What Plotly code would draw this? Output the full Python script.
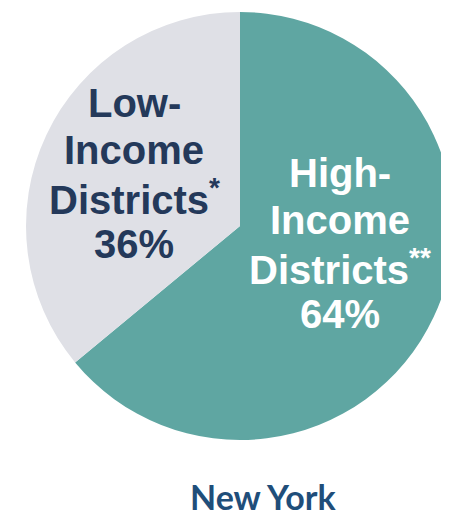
import plotly.graph_objects as go

# share of districts, New York (drawn clockwise from 12 o'clock)
labels = ["High-Income Districts", "Low-Income Districts"]
label_lines = [["High-", "Income", "Districts<sup>**</sup>"],
               ["Low-", "Income", "Districts<sup>*</sup>"]]
values = [64, 36]
title = "New York"

COLORS = ["#5fa6a2", "#dfe0e6"]
TEXT_COLORS = ["#ffffff", "#24395a"]

W, H = 449, 516
OFF = 8  # page body margin shifts the whole figure by 8px


def px_x(x):
    return (x - OFF) / W


def px_y(y):
    return 1 - (y - OFF) / H


fig = go.Figure()
fig.add_trace(go.Pie(
    labels=labels, values=values,
    marker=dict(colors=COLORS, line=dict(width=0)),
    sort=False, direction="clockwise", rotation=0,
    textinfo="none", hoverinfo="label+percent",
    domain=dict(x=[px_x(26), px_x(454)], y=[px_y(440), px_y(12)]),
    showlegend=False,
))

# slice labels, one annotation per line (x centre, first baseline, line gap)
label_pos = [(340, 188, 47), (134, 118, 47)]
for lines, v, col, (px, base, gap) in zip(label_lines, values, TEXT_COLORS, label_pos):
    for i, line in enumerate(lines + [f"{v}%"]):
        fig.add_annotation(
            text=line, x=px_x(px), y=px_y(base + i * gap - 15),
            xref="paper", yref="paper", xanchor="center", yanchor="middle",
            showarrow=False,
            font=dict(family="Liberation Sans, Arial, sans-serif", size=40,
                      color=col, weight="bold"),
        )

fig.add_annotation(
    text=title, x=px_x(263), y=px_y(496), xref="paper", yref="paper",
    xanchor="center", yanchor="middle", showarrow=False,
    font=dict(family="Lato, Open Sans, sans-serif", size=34,
              color="#1f4e7a", weight="bold"),
)

fig.update_layout(
    width=W, height=H, margin=dict(l=0, r=0, t=0, b=0),
    paper_bgcolor="white", plot_bgcolor="white",
)
fig.write_html("out.html")
